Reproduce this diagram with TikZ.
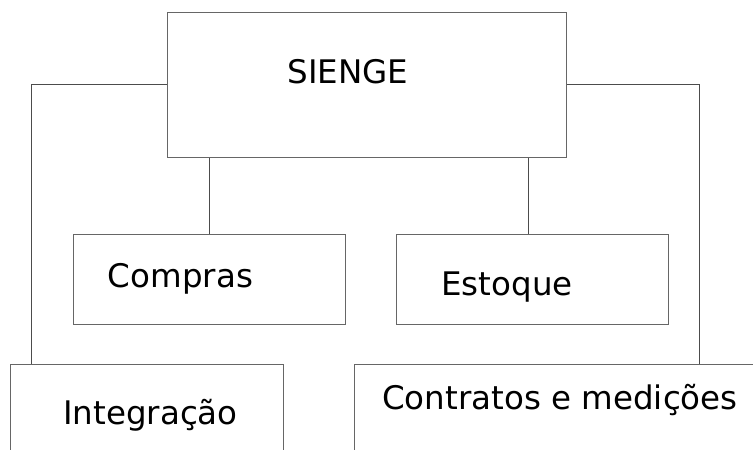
\documentclass[tikz,border=0pt]{standalone}
\usepackage{fontspec}
\setmainfont{DejaVu Sans}
\begin{document}
\begin{tikzpicture}[x=1pt,y=-1pt,node distance=323pt,
	caixa/.style={rectangle,draw=black!60,line width=1pt,inner sep=0pt},
	rotulo/.style={anchor=base,inner sep=0pt,font=\fontsize{32.5}{39}\selectfont}]
	\clip (0,0) rectangle (753,450);
	\node[caixa,minimum width=399pt,minimum height=145pt]	(sienge) at (366.5,84.5)	{};
	\node[caixa,minimum width=272pt,minimum height=90pt]	(compras) at (209,279)	{};
	\node[caixa,minimum width=272pt,minimum height=90pt]	(estoque) [right of=compras]	{};
	\node[caixa,minimum width=273pt,minimum height=106pt]	(integ) at (146.5,417)	{};
	\node[caixa,minimum width=416pt,minimum height=106pt]	(contratos) [right of=integ,node distance=415.5pt]	{};
	% textos das caixas
	\node[rotulo]	(tsienge) at (348,83)		{SIENGE};
	\node[rotulo]	(tcompras) at (180.5,287)	{Compras};
	\node[rotulo]	(testoque) at (507,295)		{Estoque};
	\node[rotulo]	(tinteg) at (150.5,424)		{Integração};
	\node[rotulo]	(tcontratos) at (560,409)	{Contratos e medições};
	\coordinate (e0) at ([xshift=-4pt]estoque.north);
	\path[draw=black!70,line width=1pt]
	(sienge.west) -| ([xshift=22pt]integ.north west)
	(sienge.east) -| ([xshift=346pt]contratos.north west)
	(compras.north) -- (compras.north |- sienge.south)
	(e0) -- (e0 |- sienge.south)
	;
\end{tikzpicture}
\end{document}
